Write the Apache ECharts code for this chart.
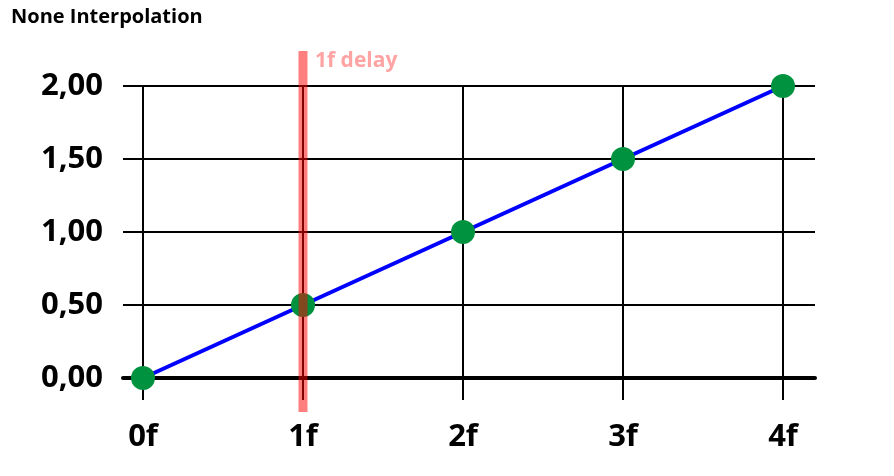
<!DOCTYPE html>
<html>
<head>
<meta charset="utf-8">
<script src="https://cdn.jsdelivr.net/npm/echarts@6/dist/echarts.min.js"></script>
<style>html,body{margin:0;padding:0;background:#fff}#c{width:894px;height:476px}</style>
</head>
<body>
<div id="c"></div>
<script>
const titleText = 'None Interpolation';
const frameLabels = ['0f', '1f', '2f', '3f', '4f'];
const frameValues = [0, 1, 2, 3, 4];
const seriesValues = [0, 0.5, 1, 1.5, 2];
const yTickValues = [0, 0.5, 1, 1.5, 2];
const delayFrames = [1];
const delayLabels = ['1f delay'];

const FONT = '"Open Sans", "Liberation Sans", sans-serif';
const chart = echarts.init(document.getElementById('c'), null, {renderer: 'canvas'});

const lineData = frameValues.map((x, i) => [x, seriesValues[i]]);
const yTop = yTickValues[yTickValues.length - 1];

chart.setOption({
  animation: false,
  backgroundColor: '#fff',
  title: {
    text: titleText, left: 6, top: 2,
    textStyle: {fontFamily: FONT, fontWeight: 'bold', fontSize: 20, color: '#000'}
  },
  grid: {left: 123, right: 79, top: 86, bottom: 98, containLabel: false},
  xAxis: {
    type: 'value', min: -0.125, max: 4.2,
    axisLine: {show: true, onZero: true, lineStyle: {color: '#000', width: 4}},
    axisTick: {show: false},
    splitLine: {show: false},
    axisLabel: {
      customValues: frameValues,
      formatter: v => frameLabels[frameValues.indexOf(v)] ?? '',
      fontFamily: FONT, fontWeight: 'bold', fontSize: 31, color: '#000', margin: 44
    }
  },
  yAxis: {
    type: 'value', min: 0, max: 2, interval: 0.5,
    axisLine: {show: false}, axisTick: {show: false},
    splitLine: {show: true, lineStyle: {color: '#000', width: 2}},
    axisLabel: {
      formatter: v => v.toFixed(2).replace('.', ','),
      fontFamily: FONT, fontWeight: 'bold', fontSize: 31, color: '#000', margin: 20
    }
  },
  series: [
    {
      type: 'custom', z: 1, silent: true, clip: false,
      data: frameValues.map(v => [v]),
      renderItem: (params, api) => {
        const x = api.value(0);
        const p1 = api.coord([x, yTop]);
        const p2 = api.coord([x, 0]);
        return {
          type: 'line',
          shape: {x1: p1[0], y1: p1[1], x2: p2[0], y2: p2[1] + 22},
          style: {stroke: '#000', lineWidth: 2}
        };
      }
    },
    {
      type: 'line', z: 3,
      data: lineData,
      symbol: 'circle', symbolSize: 24, showSymbol: true,
      lineStyle: {color: '#0000ff', width: 4},
      itemStyle: {color: '#00923f'}
    },
    {
      type: 'custom', z: 5, silent: true, clip: false,
      data: delayFrames.map((v, i) => [v, i]),
      renderItem: (params, api) => {
        const x = api.value(0);
        const pTop = api.coord([x, yTop]);
        const pBot = api.coord([x, 0]);
        const top = pTop[1] - 35;
        const bot = pBot[1] + 34;
        return {
          type: 'group',
          children: [
            {
              type: 'rect',
              shape: {x: pTop[0] - 4.5, y: top, width: 9, height: bot - top},
              style: {fill: 'rgba(255,0,0,0.5)'}
            },
            {
              type: 'text',
              style: {
                x: pTop[0] + 12, y: top + 10,
                text: delayLabels[api.value(1)],
                fill: '#ffa3a3', font: 'bold 21px ' + FONT,
                textVerticalAlign: 'middle', textAlign: 'left'
              }
            }
          ]
        };
      }
    }
  ]
});
</script>
</body>
</html>
